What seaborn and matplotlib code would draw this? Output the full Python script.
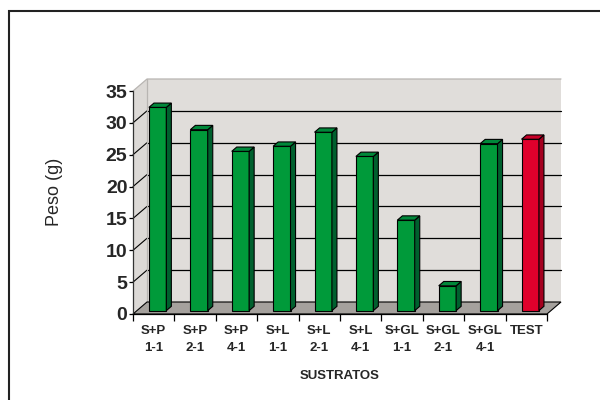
import matplotlib
matplotlib.use("Agg")
import matplotlib.pyplot as plt
import numpy as np
import pandas as pd
import seaborn as sns
from matplotlib.patches import Polygon, Rectangle

# ---- data ----
categories = ["S+P\n1-1", "S+P\n2-1", "S+P\n4-1", "S+L\n1-1", "S+L\n2-1",
              "S+L\n4-1", "S+GL\n1-1", "S+GL\n2-1", "S+GL\n4-1", "TEST"]
values = [31.9, 28.4, 25.0, 25.8, 28.0, 24.2, 14.2, 3.9, 26.2, 26.9]
front_colors = ["#009A3A"] * 9 + ["#E0002C"]
side_colors = ["#00602E"] * 9 + ["#A4001F"]
top_colors = ["#00883A"] * 9 + ["#C80028"]
y_ticks = [0, 5, 10, 15, 20, 25, 30, 35]
y_label = "Peso (g)"
x_label = "SUSTRATOS"

sns.set_theme(style="white")
plt.rcParams["font.family"] = ["Liberation Sans", "DejaVu Sans"]

W, H = 600, 400
fig = plt.figure(figsize=(6, 4), dpi=100)
ax_l, ax_b, ax_w, ax_h = 133, 86, 414, 223
ax = fig.add_axes([ax_l / W, ax_b / H, ax_w / W, ax_h / H])
n = len(categories)
ymax = y_ticks[-1]
ax.set_xlim(-0.5, n - 0.5)
ax.set_ylim(0, ymax)
ax.patch.set_visible(False)

# depth vector (pixels -> data units)
Dx = 14 / (ax_w / n)
Dy = 12 / (ax_h / ymax)
t0, t1 = 0.28, 0.64

df = pd.DataFrame({"cat": categories, "peso": values})
sns.barplot(data=df, x="cat", y="peso", hue="cat", palette=front_colors,
            width=0.42, legend=False, ax=ax, edgecolor="black",
            linewidth=0.8, saturation=1)
bars = list(ax.patches)

xl, xr = -0.5, n - 0.5
# walls and floor
ax.add_patch(Polygon([(xl + Dx, Dy), (xr + Dx, Dy), (xr + Dx, ymax + Dy), (xl + Dx, ymax + Dy)],
                     closed=True, fc="#E0DDDA", ec="none", zorder=0, clip_on=False))
ax.add_patch(Polygon([(xl, 0), (xl + Dx, Dy), (xl + Dx, ymax + Dy), (xl, ymax)],
                     closed=True, fc="#DCD9D6", ec="none", zorder=0, clip_on=False))
for t in y_ticks[1:-1]:
    ax.plot([xl + Dx, xr + Dx], [t + Dy, t + Dy], color="black", lw=0.9, zorder=0.5, clip_on=False)
    ax.plot([xl, xl + Dx], [t, t + Dy], color="black", lw=0.8, zorder=0.5, clip_on=False)
ax.plot([xl, xl + Dx, xr + Dx], [ymax, ymax + Dy, ymax + Dy], color="#B8B5B2", lw=0.9, zorder=0.5, clip_on=False)
ax.plot([xl + Dx, xl + Dx], [Dy, ymax + Dy], color="#B8B5B2", lw=0.9, zorder=0.5, clip_on=False)
ax.add_patch(Polygon([(xl, 0), (xr, 0), (xr + Dx, Dy), (xl + Dx, Dy)],
                     closed=True, fc="#A5A19D", ec="black", lw=0.8, zorder=0.6, clip_on=False))

# 3D bars
bdx, bdy = (t1 - t0) * Dx, (t1 - t0) * Dy
for i, p in enumerate(bars):
    x0 = p.get_x() + t0 * Dx
    y0 = t0 * Dy
    w = p.get_width()
    h = p.get_height()
    p.set_x(x0)
    p.set_y(y0)
    p.set_zorder(3)
    p.set_clip_on(False)
    ax.add_patch(Polygon([(x0 + w, y0), (x0 + w + bdx, y0 + bdy), (x0 + w + bdx, y0 + h + bdy), (x0 + w, y0 + h)],
                         closed=True, fc=side_colors[i], ec="black", lw=0.8, zorder=3, clip_on=False))
    ax.add_patch(Polygon([(x0, y0 + h), (x0 + w, y0 + h), (x0 + w + bdx, y0 + h + bdy), (x0 + bdx, y0 + h + bdy)],
                         closed=True, fc=top_colors[i], ec="black", lw=0.8, zorder=3, clip_on=False))

# axes styling
for s in ["top", "right"]:
    ax.spines[s].set_visible(False)
ax.spines["left"].set_color("#333333")
ax.spines["left"].set_linewidth(0.9)
ax.spines["bottom"].set_color("black")
ax.spines["bottom"].set_linewidth(0.9)
ax.spines["left"].set_zorder(1)

ax.set_yticks(y_ticks)
ax.set_yticklabels([str(v) for v in y_ticks], fontsize=14, fontweight="bold")
ax.tick_params(axis="y", left=True, length=3, width=0.9, color="black", pad=1)

ax.set_xticks(range(n))
ax.set_xticklabels(categories, fontsize=9.5, fontweight="bold", linespacing=1.55)
ax.set_xticks(np.arange(-0.5, n, 1.0), minor=True)
ax.tick_params(axis="x", which="major", length=0, pad=8)
ax.tick_params(axis="x", which="minor", bottom=True, length=5, width=0.9, color="black")
for lbl in ax.get_xticklabels():
    lbl.set_verticalalignment("top")
ax.set_xlabel("")
ax.set_ylabel("")

fig.text(55 / W, 1 - 192 / H, y_label, rotation=90, ha="center", va="center", fontsize=13)
fig.text(340 / W, 1 - 376 / H, x_label, ha="center", va="center", fontsize=9.5, fontweight="bold")

fig.add_artist(Rectangle((9 / W, -0.2), 1.2, 1.2 - 11 / H + 0.0, transform=fig.transFigure,
                         fill=False, ec="#222222", lw=1.5))

fig.savefig("out.png", dpi=100)
